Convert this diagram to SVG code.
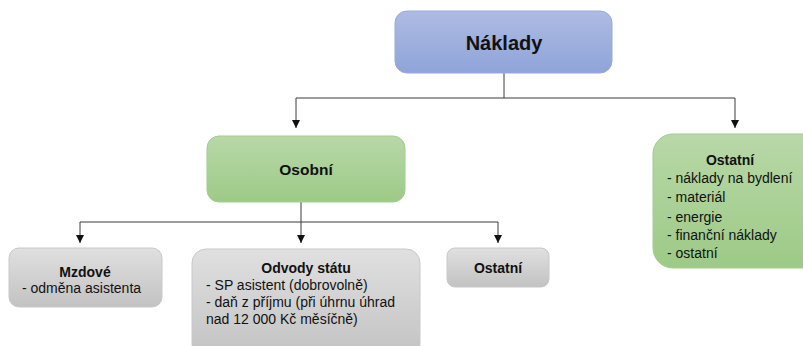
<svg xmlns="http://www.w3.org/2000/svg" width="803" height="346" viewBox="0 0 803 346">
<style>
text{font-family:"Liberation Sans",Arial,sans-serif;fill:#111}
.t{font-weight:bold;text-anchor:middle}
.i{font-size:14px}
.c{fill:none;stroke:#3a3a3a;stroke-width:1}
</style>
<defs>
<linearGradient id="gb" x1="0" y1="0" x2="0" y2="1"><stop offset="0" stop-color="#aebbe3"/><stop offset="1" stop-color="#8fa4d9"/></linearGradient>
<linearGradient id="gg" x1="0" y1="0" x2="0" y2="1"><stop offset="0" stop-color="#b8d8a8"/><stop offset="1" stop-color="#9dca86"/></linearGradient>
<linearGradient id="gy" x1="0" y1="0" x2="0" y2="1"><stop offset="0" stop-color="#e0e0e0"/><stop offset="1" stop-color="#c2c2c2"/></linearGradient>
<marker id="d" viewBox="0 0 8 8" refX="4" refY="8" markerWidth="8" markerHeight="8" markerUnits="userSpaceOnUse">
<path d="M0,0 L8,0 L4,8 Z" fill="#111"/>
</marker>
</defs>
<g id="connectors">
<path class="c" d="M504,73 V98 M296,98 H735"/>
<path class="c" d="M296,98 V128" marker-end="url(#d)"/>
<path class="c" d="M735,98 V128" marker-end="url(#d)"/>
<path class="c" d="M301,202 V222 M80,222 H498"/>
<path class="c" d="M80,222 V243" marker-end="url(#d)"/>
<path class="c" d="M301,222 V243" marker-end="url(#d)"/>
<path class="c" d="M498,222 V243" marker-end="url(#d)"/>
</g>
<g id="naklady">
<rect x="395" y="11" width="217" height="62" rx="12" fill="url(#gb)" stroke="#97aadb"/>
<text class="t" x="504" y="50" font-size="20">Náklady</text>
</g>
<g id="osobni">
<rect x="207" y="136" width="198" height="66" rx="12" fill="url(#gg)" stroke="#a3cc90"/>
<text class="t" x="306" y="175" font-size="15.5">Osobní</text>
</g>
<g id="ostatni-right">
<rect x="653" y="134" width="170" height="134" rx="20" fill="url(#gg)" stroke="#a3cc90"/>
<text class="t" x="730" y="165" font-size="14">Ostatní</text>
<text class="i" x="667" y="183">- náklady na bydlení</text>
<text class="i" x="667" y="202">- materiál</text>
<text class="i" x="667" y="222">- energie</text>
<text class="i" x="667" y="240">- finanční náklady</text>
<text class="i" x="667" y="258">- ostatní</text>
</g>
<g id="mzdove">
<rect x="9" y="248" width="153" height="59" rx="10" fill="url(#gy)" stroke="#c8c8c8"/>
<text class="t" x="85" y="277" font-size="14">Mzdové</text>
<text class="i" x="22" y="293">- odměna asistenta</text>
</g>
<g id="odvody">
<rect x="192" y="249" width="228" height="110" rx="14" fill="url(#gy)" stroke="#c8c8c8"/>
<text class="t" x="306" y="273" font-size="14">Odvody státu</text>
<text class="i" x="206" y="290">- SP asistent (dobrovolně)</text>
<text class="i" x="206" y="307">- daň z příjmu (při úhrnu úhrad</text>
<text class="i" x="206" y="324">nad 12 000 Kč měsíčně)</text>
</g>
<g id="ostatni-small">
<rect x="447" y="248" width="102" height="39" rx="8" fill="url(#gy)" stroke="#c8c8c8"/>
<text class="t" x="498" y="273" font-size="14">Ostatní</text>
</g>
</svg>
